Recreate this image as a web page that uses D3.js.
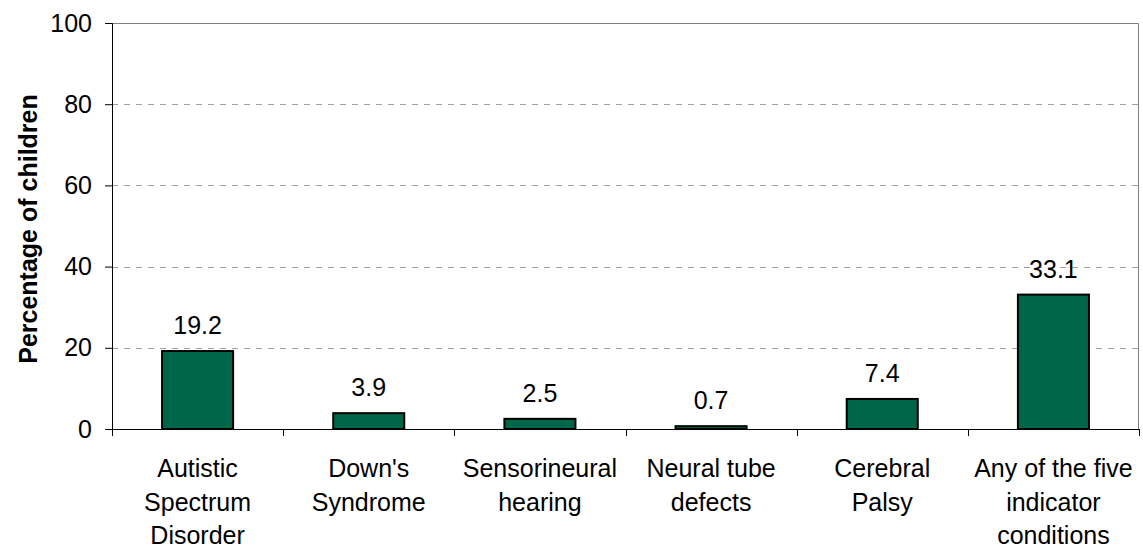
<!DOCTYPE html>
<html>
<head>
<meta charset="utf-8">
<script src="https://cdn.jsdelivr.net/npm/d3@7"></script>
<style>
  body { margin: 0; background: #fff; }
  text { font-family: Arial, "Liberation Sans", sans-serif; }
</style>
</head>
<body>
<div class="chart"></div>
<script>
// categories and values
var categories = [
    ["Autistic", "Spectrum", "Disorder"],
    ["Down's", "Syndrome"],
    ["Sensorineural", "hearing"],
    ["Neural tube", "defects"],
    ["Cerebral", "Palsy"],
    ["Any of the five", "indicator", "conditions"]
];
var values = [19.2, 3.9, 2.5, 0.7, 7.4, 33.1];
var yTicks = [0, 20, 40, 60, 80, 100];
var yTitle = "Percentage of children";

var W = 1143, H = 546;
var margin = {top: 23, right: 4, bottom: 117, left: 112},
    width = W - margin.left - margin.right,
    height = H - margin.top - margin.bottom;

var svg = d3.select(".chart").append("svg")
    .attr("width", W)
    .attr("height", H)
  .append("g")
    .attr("transform", "translate(" + margin.left + "," + margin.top + ")");

var x = d3.scaleBand()
    .domain(d3.range(categories.length))
    .range([0, width])
    .paddingInner(0.585)
    .paddingOuter(0.2925);

var y = d3.scaleLinear().domain([0, 100]).range([height, 0]);

// gridlines (dashed)
svg.selectAll(".grid")
    .data(yTicks.filter(function(d) { return d > 0 && d < 100; }))
    .enter().append("line")
    .attr("x1", 0).attr("x2", width)
    .attr("y1", function(d) { return Math.round(y(d)) + 0.5; })
    .attr("y2", function(d) { return Math.round(y(d)) + 0.5; })
    .attr("stroke", "#a0a0a0")
    .attr("stroke-dasharray", "6,6");

// top + right border of plot area
svg.append("path")
    .attr("d", "M0,0.5H" + (width - 0.5) + "V" + height)
    .attr("fill", "none")
    .attr("stroke", "#808080");

// bars
svg.selectAll(".bar")
    .data(values)
    .enter().append("rect")
    .attr("x", function(d, i) { return x(i); })
    .attr("width", x.bandwidth())
    .attr("y", function(d) { return y(d); })
    .attr("height", function(d) { return height - y(d); })
    .attr("fill", "#00664a")
    .attr("stroke", "#000")
    .attr("stroke-width", 2);

// value labels
svg.selectAll(".val")
    .data(values)
    .enter().append("text")
    .attr("x", function(d, i) { return x(i) + x.bandwidth() / 2; })
    .attr("y", function(d) { return y(d) - 17; })
    .attr("text-anchor", "middle")
    .attr("font-size", "25px")
    .attr("fill", "#000")
    .text(function(d) { return d.toFixed(1); });

// Y axis
var yAxis = svg.append("g")
    .call(d3.axisLeft(y).tickValues(yTicks).tickSizeOuter(0).tickSize(7).tickPadding(13));
yAxis.selectAll("text").attr("font-size", "25px").attr("fill", "#000")
    .style("font-family", "Arial, 'Liberation Sans', sans-serif");
yAxis.selectAll("line, path").attr("stroke", "#000");

// X axis: ticks at category boundaries
var bounds = d3.range(categories.length + 1).map(function(i) { return i * width / categories.length; });
svg.append("line")
    .attr("x1", 0).attr("x2", width)
    .attr("y1", height + 0.5).attr("y2", height + 0.5)
    .attr("stroke", "#000");
svg.selectAll(".xtick")
    .data(bounds)
    .enter().append("line")
    .attr("x1", function(d) { return Math.round(d) + 0.5; })
    .attr("x2", function(d) { return Math.round(d) + 0.5; })
    .attr("y1", height).attr("y2", height + 7)
    .attr("stroke", "#000");

// category labels
var cat = svg.selectAll(".cat")
    .data(categories)
    .enter().append("text")
    .attr("text-anchor", "middle")
    .attr("font-size", "25px")
    .attr("fill", "#000")
    .attr("transform", function(d, i) {
        return "translate(" + (x(i) + x.bandwidth() / 2) + "," + (height + 48) + ")";
    });
cat.selectAll("tspan")
    .data(function(d) { return d; })
    .enter().append("tspan")
    .attr("x", 0)
    .attr("y", function(d, j) { return j * 33.5; })
    .text(function(d) { return d; });

// y title
svg.append("text")
    .attr("transform", "translate(" + (-75) + "," + 206 + ") rotate(-90)")
    .attr("text-anchor", "middle")
    .attr("font-size", "25px")
    .attr("font-weight", "bold")
    .text(yTitle);
</script>
</body>
</html>
